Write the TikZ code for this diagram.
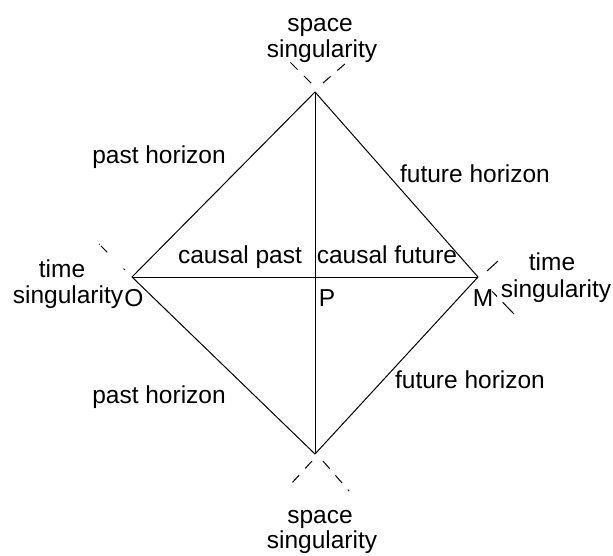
\documentclass[tikz,border=0pt]{standalone}
\usepackage{fontspec}
\setmainfont{Liberation Sans}
\begin{document}
\begin{tikzpicture}[x=1pt,y=-1pt,
  lbl/.style={anchor=base,inner sep=0pt,font=\fontsize{24.5}{27}\selectfont},
  edge/.style={line width=1pt,black},
  sing/.style={line width=1pt,black,dash pattern=on 10pt off 9pt}]
\useasboundingbox (0,0) rectangle (613,555);
\coordinate (T) at (315,92);
\coordinate (L) at (132,277);
\coordinate (R) at (478,277);
\coordinate (B) at (315,454);
\draw[edge] (L) -- (T) -- (R) -- (B) -- cycle;
\draw[edge] (L) -- (R);
\draw[edge] (T) -- (B);
% singularity marks
\coordinate (t1a) at (311,83); \coordinate (t1b) at (290,62);
\coordinate (t2a) at (323,83); \coordinate (t2b) at (346,63);
\coordinate (b1a) at (312,461); \coordinate (b1b) at (291,484);
\coordinate (b2a) at (323,461); \coordinate (b2b) at (349,491);
\coordinate (l1a) at (125,270); \coordinate (l1b) at (99,244);
\coordinate (r1a) at (487,271); \coordinate (r1b) at (498,261);
\coordinate (r2a) at (486,285); \coordinate (r2b) at (514,314);
\draw[sing] (t1a) -- (t1b);
\draw[sing] (t2a) -- (t2b);
\draw[sing] (b1a) -- (b1b);
\draw[sing] (b2a) -- (b2b);
\draw[edge,dash pattern=on 2pt off 23pt on 9pt] (l1a) -- (l1b);
\draw[edge] (r1a) -- (r1b);
\draw[edge,dash pattern=on 0pt off 9pt on 7pt off 8pt on 11pt] (r2a) -- (r2b);
% labels
\node[lbl] (st1) at (320,31) {space};
\node[lbl] (st2) at (322,57) {singularity};
\node[lbl] (ph1) at (159,163) {past horizon};
\node[lbl] (fh1) at (475,182) {future horizon};
\node[lbl] (tl1) at (62,277) {time};
\node[lbl] (tl2) at (68,303) {singularity};
\node[lbl] (O) at (134,306) {O};
\node[lbl] (cp) at (240,263) {causal past};
\node[lbl] (cf) at (387,263) {causal future};
\node[lbl] (P) at (327,306) {P};
\node[lbl] (M) at (483,306) {M};
\node[lbl] (tr1) at (552,270) {time};
\node[lbl] (tr2) at (556,297) {singularity};
\node[lbl] (ph2) at (159,403) {past horizon};
\node[lbl] (fh2) at (470,388) {future horizon};
\node[lbl] (sb1) at (320,523) {space};
\node[lbl] (sb2) at (322,548) {singularity};
\end{tikzpicture}
\end{document}
